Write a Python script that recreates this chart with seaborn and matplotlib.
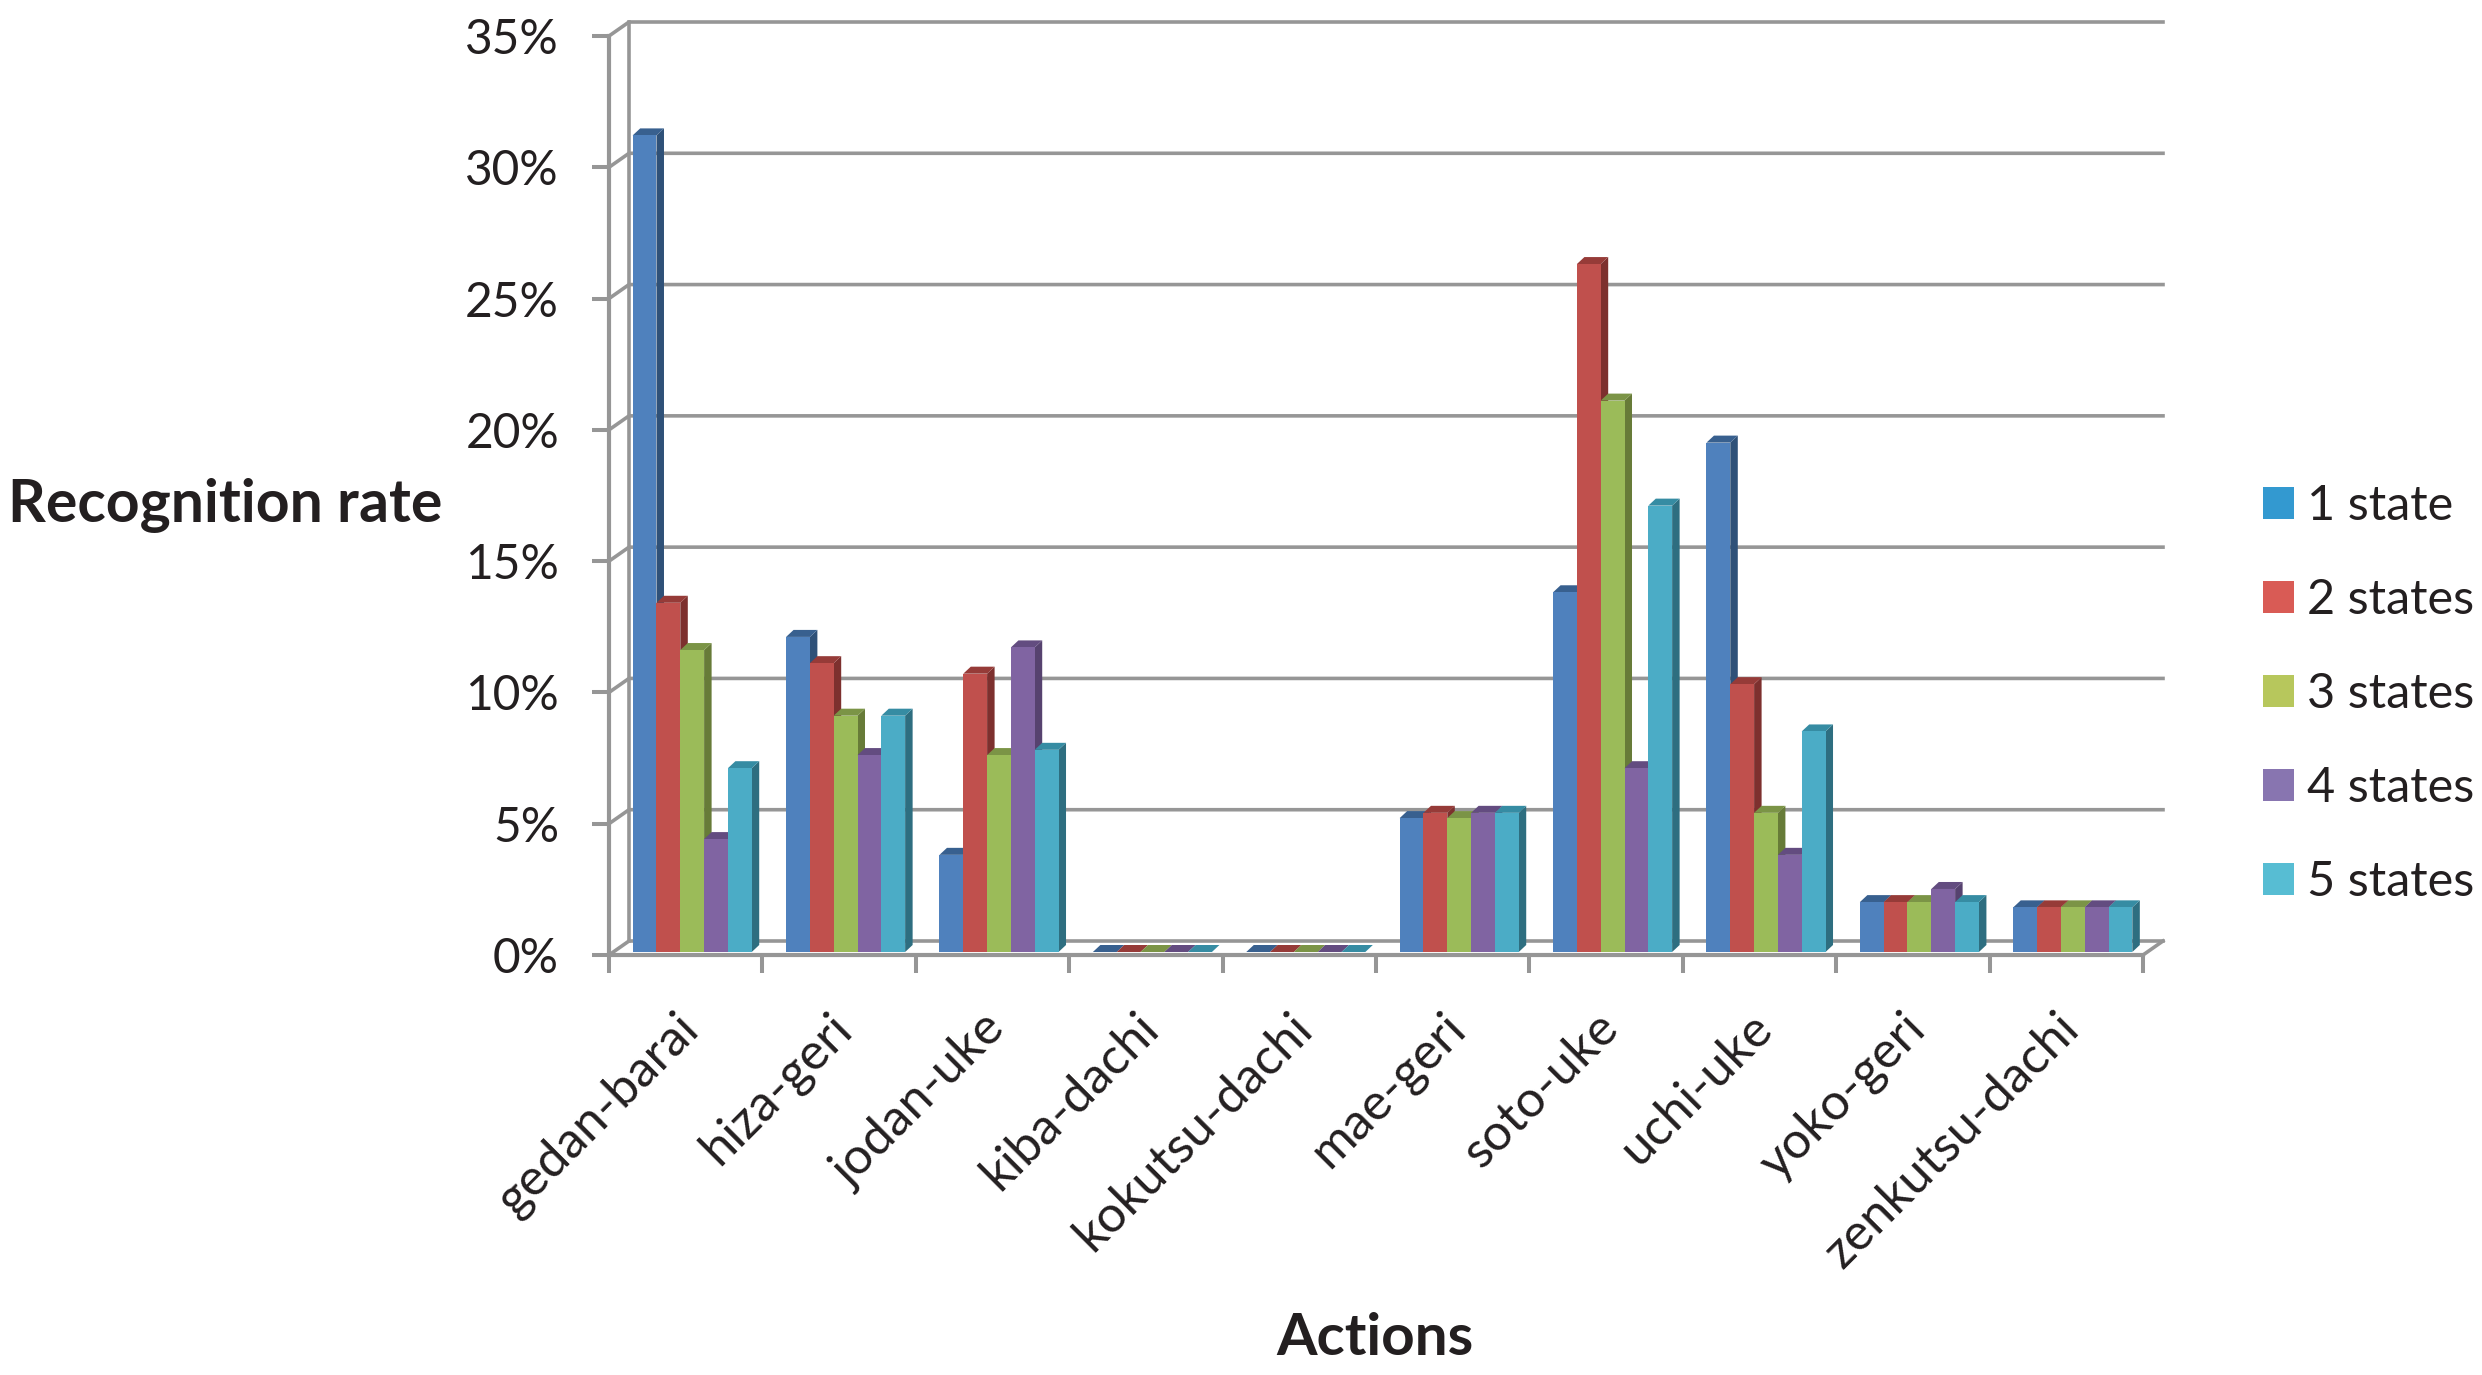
import numpy as np
import pandas as pd
import seaborn as sns
import matplotlib.pyplot as plt
from matplotlib.patches import Patch, Polygon
from matplotlib.transforms import Affine2D

actions = ['gedan-barai', 'hiza-geri', 'jodan-uke', 'kiba-dachi', 'kokutsu-dachi',
           'mae-geri', 'soto-uke', 'uchi-uke', 'yoko-geri', 'zenkutsu-dachi']
states = ['1 state', '2 states', '3 states', '4 states', '5 states']

state_1 = [31.1, 12.0, 3.7, 0, 0, 5.1, 13.7, 19.4, 1.9, 1.7]
state_2 = [13.3, 11.0, 10.6, 0, 0, 5.3, 26.2, 10.2, 1.9, 1.7]
state_3 = [11.5, 9.0, 7.5, 0, 0, 5.1, 21.0, 5.3, 1.9, 1.7]
state_4 = [4.3, 7.5, 11.6, 0, 0, 5.3, 7.0, 3.7, 2.4, 1.7]
state_5 = [7.0, 9.0, 7.7, 0, 0, 5.3, 17.0, 8.4, 1.9, 1.7]

y_ticks = [0, 5, 10, 15, 20, 25, 30, 35]

front_colors = ['#4F81BD', '#C0504D', '#9BBB59', '#8064A2', '#4BACC6']
side_colors = ['#2F5178', '#7D302E', '#677B38', '#56426F', '#2E6E80']
top_colors = ['#38608F', '#963B38', '#7B9446', '#634C80', '#368CA3']
legend_colors = ['#3399D0', '#D95B55', '#B7C75C', '#8875B0', '#57BDD3']

GRAY = '#969696'
INK = '#231F20'

# pixel geometry of the figure
FIG_W, FIG_H = 2482, 1375
LEFT, RIGHT, BOTTOM, TOP = 609, 2143, 955, 36
PX_X = 10 / (RIGHT - LEFT)      # data units per pixel, x
PX_Y = 35 / (BOTTOM - TOP)      # data units per pixel, y

plt.rcParams['font.family'] = ['Lato', 'DejaVu Sans']

df = pd.DataFrame({'action': actions, '1 state': state_1, '2 states': state_2,
                   '3 states': state_3, '4 states': state_4, '5 states': state_5})
df_long = df.melt(id_vars='action', var_name='states', value_name='rate')

fig = plt.figure(figsize=(FIG_W / 100, FIG_H / 100), dpi=100)
ax = fig.add_axes([LEFT / FIG_W, 1 - BOTTOM / FIG_H, (RIGHT - LEFT) / FIG_W, (BOTTOM - TOP) / FIG_H])

sns.barplot(data=df_long, x='action', y='rate', hue='states', order=actions, hue_order=states,
            palette=front_colors, saturation=1, width=0.776, gap=0, linewidth=0, legend=False, ax=ax)

ax.set_xlim(-0.5, 9.5)
ax.set_ylim(0, 35)

# back wall of the 3D box
wall_dx = 20 * PX_X
wall_dy = 14 * PX_Y
for tick in y_ticks:
    ax.plot([-0.5, -0.5 + wall_dx, 9.5 + wall_dx], [tick, tick + wall_dy, tick + wall_dy],
            color=GRAY, lw=2.6, zorder=1, clip_on=False, solid_joinstyle='miter')
ax.plot([-0.5 + wall_dx, -0.5 + wall_dx], [wall_dy, 35 + wall_dy], color=GRAY, lw=2.6, zorder=1, clip_on=False)
ax.plot([9.5, 9.5 + wall_dx], [0, wall_dy], color=GRAY, lw=2.6, zorder=1, clip_on=False)

# shift the bars onto the floor and give them a side and a top face
shift = 6.5 * PX_X
lift = 3 * PX_Y
depth_x = 7.5 * PX_X
depth_y = 7 * PX_Y
for s, container in enumerate(ax.containers):
    for bar in container:
        bar.set_x(bar.get_x() + shift)
        bar.set_y(lift)
        bar.set_clip_on(False)
        x0 = bar.get_x()
        x1 = x0 + bar.get_width()
        y1 = lift + bar.get_height()
        order = 3 + x0
        bar.set_zorder(order + 0.002)
        ax.add_patch(Polygon([(x1, lift), (x1 + depth_x, lift + depth_y), (x1 + depth_x, y1 + depth_y), (x1, y1)],
                             facecolor=side_colors[s], edgecolor='none', zorder=order, clip_on=False))
        ax.add_patch(Polygon([(x0, y1), (x0 + depth_x, y1 + depth_y), (x1 + depth_x, y1 + depth_y), (x1, y1)],
                             facecolor=top_colors[s], edgecolor='none', zorder=order, clip_on=False))

sns.despine(ax=ax, top=True, right=True)
for side in ['left', 'bottom']:
    ax.spines[side].set_color(GRAY)
    ax.spines[side].set_linewidth(3)
    ax.spines[side].set_zorder(20)

ax.set_yticks(y_ticks)
ax.set_yticklabels([f'{t}%' for t in y_ticks])
ax.tick_params(axis='y', length=12, width=2.9, color=GRAY, pad=24, labelsize=34.5, labelcolor=INK)

ax.set_xticks(np.arange(-0.5, 10, 1))
ax.set_xticklabels([])
ax.set_xticks(np.arange(10), labels=actions, minor=True)
ax.tick_params(axis='x', which='major', length=13, width=2.9, color=GRAY)
ax.tick_params(axis='x', which='minor', length=0, pad=30, labelsize=36.5, labelcolor=INK)
for label in ax.get_xticklabels(minor=True):
    label.set_rotation(45)
    label.set_ha('right')
    label.set_va('top')
    label.set_rotation_mode('anchor')
    # nudge in pixels, the labels sit a bit left of the category centre
    label.set_transform(label.get_transform() + Affine2D().translate(-11, -8))

ax.set_xlabel('Actions', fontsize=42, fontweight='bold', color=INK, va='center')
ax.xaxis.set_label_coords(0.4995, -0.417)
ax.set_ylabel('Recognition rate', fontsize=42.4, fontweight='bold', color=INK, rotation=0, ha='left', va='center')
ax.yaxis.set_label_coords(-0.392, 0.489)

handles = [Patch(facecolor=c, edgecolor='none', label=s) for c, s in zip(legend_colors, states)]
fig.legend(handles=handles, loc='center left', bbox_to_anchor=(2263 / FIG_W, 1 - 694 / FIG_H), frameon=False,
           fontsize=35, labelcolor=INK, handlelength=0.64, handleheight=0.64, handletextpad=0.26,
           labelspacing=1.03, borderpad=0, borderaxespad=0)

fig.savefig('out.png', dpi=100, facecolor='white')
